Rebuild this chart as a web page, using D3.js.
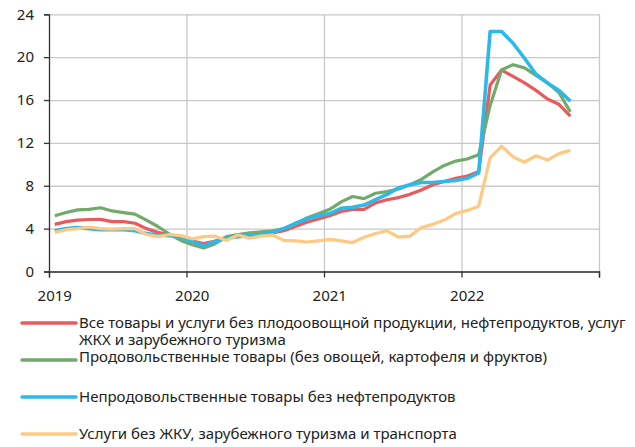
<!DOCTYPE html>
<html>
<head>
<meta charset="utf-8">
<script src="https://cdn.jsdelivr.net/npm/d3@7"></script>
<style>
  body { margin: 0; background: #fff; }
  svg { font-family: "Noto Sans", sans-serif; }
</style>
</head>
<body>
<svg id="chart" width="635" height="447"></svg>
<script>
// годовые метки и значения по месяцам (янв 2019 - окт 2022)
var years = ["2019", "2020", "2021", "2022"];
var yTicks = [0, 4, 8, 12, 16, 20, 24];

var allGoods = [4.4, 4.65, 4.8, 4.85, 4.87, 4.65, 4.65, 4.5, 4.0, 3.65, 3.4, 3.25,
  2.85, 2.6, 2.85, 3.2, 3.35, 3.4, 3.55, 3.6, 3.8, 4.2, 4.6, 4.9,
  5.2, 5.6, 5.8, 5.8, 6.4, 6.7, 6.9, 7.2, 7.6, 8.1, 8.4, 8.7,
  8.9, 9.3, 17.4, 18.8, 18.2, 17.6, 16.9, 16.1, 15.6, 14.5];
var food = [5.2, 5.5, 5.75, 5.8, 5.95, 5.65, 5.5, 5.35, 4.8, 4.2, 3.5, 2.9,
  2.5, 2.2, 2.6, 3.25, 3.45, 3.6, 3.7, 3.8, 4.0, 4.4, 5.0, 5.4,
  5.8, 6.5, 7.0, 6.8, 7.3, 7.45, 7.7, 8.1, 8.6, 9.3, 9.9, 10.3,
  10.5, 10.9, 15.5, 18.8, 19.3, 19.0, 18.3, 17.6, 16.7, 14.9];
var nonFood = [3.8, 4.0, 4.1, 4.0, 3.9, 3.9, 3.9, 3.8, 3.55, 3.4, 3.35, 3.2,
  2.8, 2.4, 2.8, 3.1, 3.25, 3.35, 3.45, 3.65, 4.0, 4.5, 4.9, 5.2,
  5.4, 5.9, 6.0, 6.2, 6.7, 7.2, 7.8, 8.1, 8.3, 8.3, 8.4, 8.5,
  8.7, 9.2, 22.4, 22.4, 21.3, 19.9, 18.4, 17.6, 16.9, 15.9];
var services = [3.65, 3.9, 4.0, 4.15, 4.0, 3.95, 4.0, 4.0, 3.45, 3.25, 3.45, 3.35,
  3.05, 3.25, 3.3, 2.9, 3.4, 3.1, 3.3, 3.4, 2.9, 2.85, 2.75, 2.85,
  3.0, 2.85, 2.7, 3.2, 3.55, 3.8, 3.2, 3.3, 4.1, 4.4, 4.8, 5.4,
  5.7, 6.1, 10.6, 11.7, 10.7, 10.2, 10.8, 10.4, 11.0, 11.3];

var seriesNames = [
  ["Все товары и услуги без плодоовощной продукции, нефтепродуктов, услуг", "ЖКХ и зарубежного туризма"],
  ["Продовольственные товары (без овощей, картофеля и фруктов)"],
  ["Непродовольственные товары без нефтепродуктов"],
  ["Услуги без ЖКУ, зарубежного туризма и транспорта"]
];
var seriesData = [allGoods, food, nonFood, services];
var colors = ["#ea5a5d", "#72aa6c", "#2cb9ea", "#fec983"];
var widths = [3.2, 3.2, 3.6, 3.2];

var svg = d3.select("#chart");
var mLeft = 49, mRight = 599, mTop = 14.3, mBottom = 271.5;

var x = d3.scaleLinear().domain([0, 48]).range([mLeft, mRight]);
var y = d3.scaleLinear().domain([0, 24]).range([mBottom, mTop]);

// сетка
svg.append("g")
  .attr("transform", "translate(" + mLeft + ",0)")
  .call(d3.axisLeft(y).tickValues(yTicks).tickSize(-(mRight - mLeft)).tickFormat(""))
  .call(function (g) { g.select(".domain").remove(); })
  .selectAll("line").attr("stroke", "#c8c8c8").attr("stroke-width", 1.3);

svg.append("g")
  .attr("transform", "translate(0," + mBottom + ")")
  .call(d3.axisBottom(x).tickValues([12, 24, 36, 48]).tickSize(-(mBottom - mTop)).tickFormat(""))
  .call(function (g) { g.select(".domain").remove(); })
  .selectAll("line").attr("stroke", "#c8c8c8").attr("stroke-width", 1.3);

// линии
var line = d3.line()
  .x(function (d, i) { return x(i + 0.5); })
  .y(function (d) { return y(d); });

seriesData.forEach(function (s, k) {
  svg.append("path")
    .datum(s)
    .attr("fill", "none")
    .attr("stroke", colors[k])
    .attr("stroke-width", widths[k])
    .attr("stroke-linejoin", "round")
    .attr("d", line);
});

// оси
var yAxis = svg.append("g")
  .attr("transform", "translate(" + mLeft + ",0)")
  .call(d3.axisLeft(y).tickValues(yTicks).tickSize(5).tickPadding(10));
yAxis.select(".domain").attr("stroke", "#333").attr("stroke-width", 1.3);
yAxis.selectAll("line").attr("stroke", "#333").attr("stroke-width", 1.3);
yAxis.selectAll("text").attr("font-size", 15).attr("fill", "#222")
  .attr("font-family", "Noto Sans");

var xAxis = svg.append("g")
  .attr("transform", "translate(0," + mBottom + ")")
  .call(d3.axisBottom(x).tickValues([0, 12, 24, 36, 48]).tickSize(6).tickFormat(""));
xAxis.select(".domain").attr("stroke", "#333").attr("stroke-width", 1.3);
xAxis.selectAll("line").attr("stroke", "#333").attr("stroke-width", 1.3);

svg.selectAll(".year")
  .data(years)
  .enter().append("text")
  .attr("x", function (d, i) { return x(i * 12 + 0.5); })
  .attr("y", 301)
  .attr("text-anchor", "middle")
  .attr("font-size", 15)
  .attr("fill", "#222")
  .text(function (d) { return d; });

// легенда
var legendY = [323, 360, 397, 434];
seriesNames.forEach(function (names, k) {
  var g = svg.append("g");
  g.append("line")
    .attr("x1", 22).attr("x2", 76)
    .attr("y1", legendY[k]).attr("y2", legendY[k])
    .attr("stroke", colors[k]).attr("stroke-width", 3.5)
    .attr("stroke-linecap", "round");
  var ty = k === 1 ? legendY[k] - 3 : legendY[k];
  names.forEach(function (t, j) {
    g.append("text")
      .attr("x", 79)
      .attr("y", ty + j * 17)
      .attr("dy", "0.35em")
      .attr("font-size", 15)
      .attr("fill", "#222")
      .text(t);
  });
});
</script>
</body>
</html>
